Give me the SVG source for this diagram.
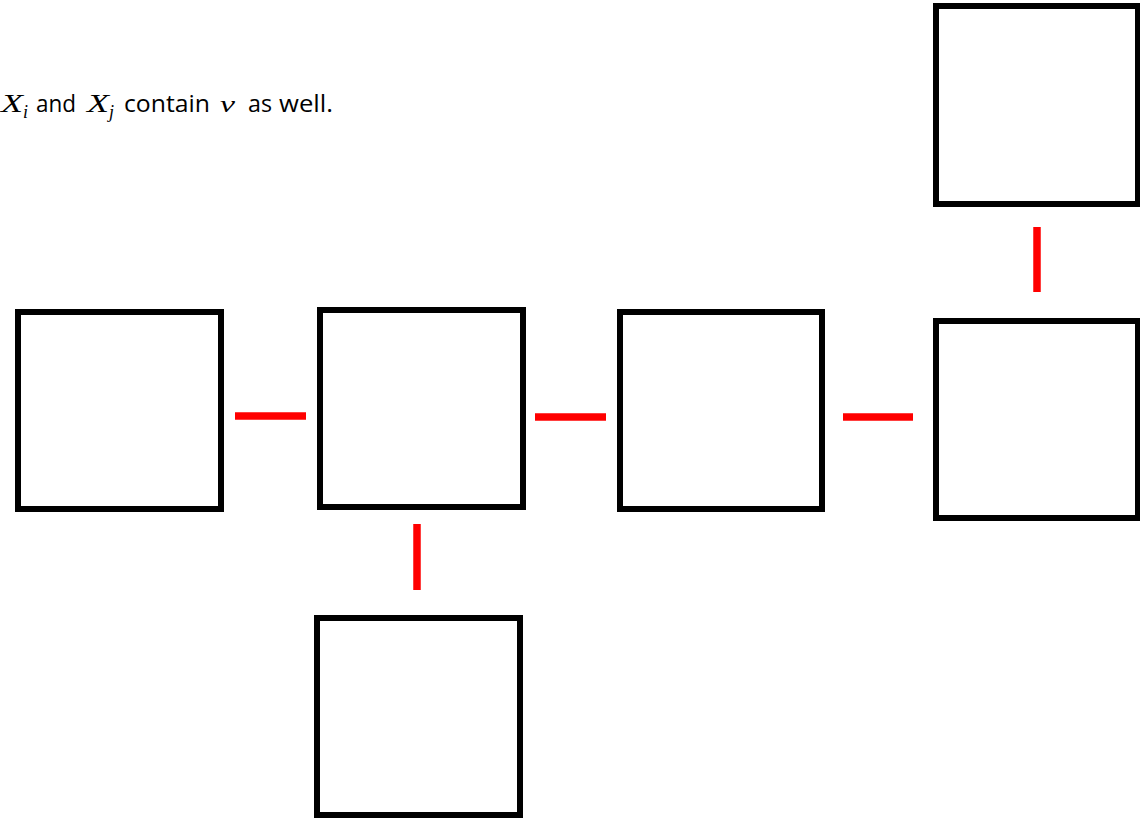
<svg xmlns="http://www.w3.org/2000/svg" width="1140" height="819" viewBox="0 0 1140 819">
<style>
.box{fill:#fff;stroke:#000;stroke-width:6}
.con{stroke:#ff0000;stroke-width:7.5;fill:none}
.t{font-family:"Open Sans","Noto Sans",sans-serif;font-size:23.5px;fill:#000}
.m{font-family:"Liberation Serif","DejaVu Serif",serif;font-style:italic;font-size:26px;fill:#000}
.s{font-family:"Liberation Serif","DejaVu Serif",serif;font-style:italic;font-size:18px;fill:#000}
</style>
<rect width="1140" height="819" fill="#fff"/>
<g id="caption">
<text class="m" x="1" y="112" textLength="22" lengthAdjust="spacingAndGlyphs">X</text>
<text class="s" x="23" y="118">i</text>
<text class="t" x="36" y="112" textLength="40" lengthAdjust="spacingAndGlyphs">and</text>
<text class="m" x="87" y="112" textLength="22" lengthAdjust="spacingAndGlyphs">X</text>
<text class="s" x="109" y="118">j</text>
<text class="t" x="124" y="112" textLength="86" lengthAdjust="spacingAndGlyphs">contain</text>
<text class="m" x="220" y="112" style="font-size:23px" textLength="15" lengthAdjust="spacingAndGlyphs">v</text>
<text class="t" x="248" y="112" textLength="24" lengthAdjust="spacingAndGlyphs">as</text>
<text class="t" x="279" y="112" textLength="54" lengthAdjust="spacingAndGlyphs">well.</text>
</g>
<g id="connectors">
<line class="con" x1="235" y1="416" x2="306" y2="416"/>
<line class="con" x1="535" y1="417" x2="606" y2="417"/>
<line class="con" x1="843" y1="417" x2="913" y2="417"/>
<line class="con" x1="1037" y1="227" x2="1037" y2="292"/>
<line class="con" x1="417" y1="524" x2="417" y2="590"/>
</g>
<g id="node1"><rect class="box" x="18" y="312" width="203" height="197"/></g>
<g id="node2"><rect class="box" x="320" y="310" width="203" height="197"/></g>
<g id="node3"><rect class="box" x="620" y="312" width="202" height="197"/></g>
<g id="node4"><rect class="box" x="936" y="321" width="202" height="197"/></g>
<g id="node5"><rect class="box" x="936" y="6" width="202" height="198"/></g>
<g id="node6"><rect class="box" x="317" y="618" width="203" height="197"/></g>
</svg>
